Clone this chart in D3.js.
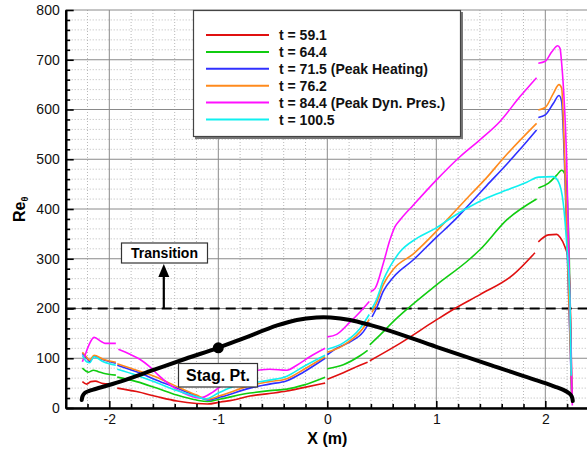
<!DOCTYPE html>
<html><head><meta charset="utf-8">
<script src="https://cdn.jsdelivr.net/npm/d3@7"></script>
<style>
body{margin:0;background:#fff;}
svg{display:block;font-family:"Liberation Sans",Arial,sans-serif;}
</style></head>
<body><svg id="c" width="587" height="451"></svg>
<script>
// ---- data ----
const xMajorTicks = [-2, -1, 0, 1, 2];
const xTickLabels = ["-2", "-1", "0", "1", "2"];
const yMajorTicks = [0, 100, 200, 300, 400, 500, 600, 700, 800];
const seriesLabels = ["t = 59.1", "t = 64.4", "t = 71.5 (Peak Heating)", "t = 76.2", "t = 84.4 (Peak Dyn. Pres.)", "t = 100.5"];
const transitionRe = 200;
const stagPoint = [-1.0, 121];

// null marks a break in the curve
const t59 = [[-2.247,53],[-2.207,48],[-2.17,53],[-2.13,54],[-2.055,49],[-1.94,48], null,
  [-1.927,40],[-1.75,33],[-1.565,23],[-1.38,14],[-1.2,9],[-1.1,8],[-0.98,12],[-0.86,16],[-0.71,24],[-0.53,29],[-0.37,34],[-0.22,41],[-0.02,50], null,
  [0,58],[0.147,71],[0.3,86],[0.37,92], null,
  [0.39,95],[0.667,130],[1.0,177],[1.17,200],[1.4,228],[1.706,268],[1.905,312], null,
  [1.936,334],[2.03,348],[2.105,349],[2.135,343],[2.18,324],[2.21,300],[2.235,150],[2.245,18]];
const t64 = [[-2.247,80],[-2.19,72],[-2.147,76],[-2.1,73],[-2.055,70],[-1.94,66], null,
  [-1.927,62],[-1.75,53],[-1.565,40],[-1.38,26],[-1.2,16],[-1.1,13],[-0.98,18],[-0.71,30],[-0.53,35],[-0.37,38],[-0.22,46],[-0.02,62], null,
  [0,79],[0.147,87],[0.3,105],[0.37,116], null,
  [0.39,127],[0.48,146],[0.636,180],[0.728,198],[1.0,247],[1.31,300],[1.4,318],[1.646,378],[1.92,420], null,
  [1.936,442],[2.03,452],[2.105,468],[2.15,478],[2.18,470],[2.196,445],[2.22,300],[2.243,15]];
const t71 = [[-2.247,110],[-2.207,100],[-2.18,93],[-2.14,104],[-2.055,97],[-1.94,90], null,
  [-1.927,86],[-1.75,73],[-1.565,56],[-1.38,40],[-1.2,24],[-1.1,16],[-0.98,22],[-0.71,40],[-0.53,48],[-0.37,55],[-0.22,72],[-0.02,100], null,
  [0,107],[0.086,120],[0.21,133],[0.33,153],[0.385,172], null,
  [0.41,183],[0.45,200],[0.514,235],[0.606,263],[0.79,298],[1.0,343],[1.156,375],[1.31,411],[1.462,447],[1.646,490],[1.76,518],[1.92,559], null,
  [1.936,584],[2.0,589],[2.073,612],[2.126,628],[2.15,616],[2.175,500],[2.244,12]];
const t76 = [[-2.247,112],[-2.207,102],[-2.18,96],[-2.14,106],[-2.055,98],[-1.94,92], null,
  [-1.927,89],[-1.75,76],[-1.565,62],[-1.38,43],[-1.2,26],[-1.1,18],[-0.98,25],[-0.71,45],[-0.53,53],[-0.37,59],[-0.22,77],[-0.02,103], null,
  [0,112],[0.147,126],[0.3,153],[0.385,178], null,
  [0.41,192],[0.45,210],[0.514,248],[0.606,279],[0.79,310],[1.0,355],[1.156,392],[1.31,428],[1.462,463],[1.615,502],[1.92,572], null,
  [1.936,599],[2.0,604],[2.073,632],[2.126,650],[2.15,643],[2.175,520],[2.245,10]];
const t84 = [[-2.247,93],[-2.223,106],[-2.19,125],[-2.14,142],[-2.07,133],[-2.04,130],[-1.94,130], null,
  [-1.917,118],[-1.81,108],[-1.72,98],[-1.63,83],[-1.55,66],[-1.44,46],[-1.32,30],[-1.17,20],[-1.05,32],[-0.98,43],[-0.89,52],[-0.71,73],[-0.53,78],[-0.37,76],[-0.28,86],[-0.16,103],[-0.02,120], null,
  [0,143],[0.086,148],[0.21,173],[0.3,193],[0.385,214], null,
  [0.398,234],[0.44,241],[0.514,291],[0.575,338],[0.62,364],[0.667,378],[0.79,408],[1.0,458],[1.217,505],[1.40,539],[1.584,576],[1.768,626],[1.92,664], null,
  [1.936,693],[2.0,697],[2.06,716],[2.114,728],[2.135,723],[2.15,693],[2.196,498],[2.242,56],[2.248,5]];
const t100 = [[-2.247,106],[-2.207,93],[-2.18,91],[-2.14,103],[-2.055,93],[-1.94,86], null,
  [-1.927,78],[-1.75,66],[-1.565,51],[-1.38,35],[-1.2,23],[-1.12,18],[-1.0,30],[-0.86,43],[-0.71,50],[-0.53,56],[-0.37,64],[-0.22,83],[-0.02,106], null,
  [0,118],[0.147,131],[0.3,160],[0.385,188], null,
  [0.41,200],[0.45,217],[0.514,257],[0.575,284],[0.667,314],[0.82,341],[1.0,362],[1.156,385],[1.31,405],[1.462,422],[1.646,438],[1.83,454],[1.94,464],[2.07,465],[2.12,455],[2.165,411],[2.196,331],[2.227,204],[2.238,65]];
const bodyProfile = [[-2.253,16],[-2.245,24],[-2.225,30],[-2.19,34],[-2.147,37],[-1.9,53],[-1.6,76],[-1.3,99],[-1.0,121],[-0.77,140],[-0.46,166],[-0.28,177],[-0.1,182],[0.03,182],[0.21,177],[0.39,167],[0.575,155],[1.0,123],[1.5,86],[2.0,50],[2.1,42],[2.17,36],[2.21,31],[2.235,26],[2.248,20],[2.252,14]];

const seriesData = [t59, t64, t71, t76, t84, t100];
const seriesColors = ["#e01010", "#10cc10", "#3030ff", "#ff8a1c", "#ff10ff", "#10f0f0"];

// ---- drawing ----
const svg = d3.select("#c");
const x = d3.scaleLinear().domain([-2.4, 2.4]).range([65.7, 588.9]);
const y = d3.scaleLinear().domain([0, 800]).range([408, 10]);
const font = '"Liberation Sans",Arial,sans-serif';

// grid
const xMinor = d3.range(-2.4, 2.41, 0.2).map(v => +v.toFixed(2)).filter(v => !xMajorTicks.includes(v));
const yMinor = d3.range(0, 801, 20).filter(v => v % 100 !== 0);
const g = svg.append("g");
g.selectAll(".vx").data(xMinor).join("line")
  .attr("x1", d => x(d)).attr("x2", d => x(d)).attr("y1", y(800)).attr("y2", y(0))
  .attr("stroke", "#b8b8b8").attr("stroke-width", 1).attr("stroke-dasharray", "1,2");
g.selectAll(".hy").data(yMinor).join("line")
  .attr("x1", x(-2.4)).attr("x2", x(2.4)).attr("y1", d => y(d)).attr("y2", d => y(d))
  .attr("stroke", "#b8b8b8").attr("stroke-width", 1).attr("stroke-dasharray", "1,2");
g.selectAll(".vX").data(xMajorTicks).join("line")
  .attr("x1", d => x(d)).attr("x2", d => x(d)).attr("y1", y(800)).attr("y2", y(0))
  .attr("stroke", "#8a8a8a").attr("stroke-width", 1);
g.selectAll(".hY").data(yMajorTicks).join("line")
  .attr("x1", x(-2.4)).attr("x2", x(2.4)).attr("y1", d => y(d)).attr("y2", d => y(d))
  .attr("stroke", "#8a8a8a").attr("stroke-width", 1);

// transition line
svg.append("line").attr("x1", x(-2.4)).attr("x2", x(2.4))
  .attr("y1", y(transitionRe)).attr("y2", y(transitionRe))
  .attr("stroke", "#000").attr("stroke-width", 2.2).attr("stroke-dasharray", "10,6");

// series
const line = d3.line().defined(d => d !== null).x(d => x(d[0])).y(d => y(d[1])).curve(d3.curveMonotoneX);
const lineB = d3.line().defined(d => d !== null).x(d => x(d[0])).y(d => y(d[1])).curve(d3.curveCatmullRom);
seriesData.forEach((s, i) => {
  svg.append("path").attr("d", line(s)).attr("fill", "none")
    .attr("stroke", seriesColors[i]).attr("stroke-width", 1.6).attr("stroke-linejoin", "round");
});

// body profile
svg.append("path").attr("d", lineB(bodyProfile)).attr("fill", "none")
  .attr("stroke", "#000").attr("stroke-width", 4).attr("stroke-linecap", "round").attr("stroke-linejoin", "round");
svg.append("circle").attr("cx", x(stagPoint[0])).attr("cy", y(stagPoint[1])).attr("r", 5.5).attr("fill", "#000");

// axes
const axL = d3.axisLeft(y).tickValues(yMajorTicks).tickSize(-8).tickSizeOuter(0).tickPadding(6);
const axLm = d3.axisLeft(y).tickValues(yMinor).tickSize(-4.5).tickSizeOuter(0).tickFormat("");
const axB = d3.axisBottom(x).tickValues(xMajorTicks).tickSize(-7).tickSizeOuter(0).tickPadding(6)
  .tickFormat((d, i) => xTickLabels[i]);
const axBm = d3.axisBottom(x).tickValues(xMinor.filter(v => v > -2.4 && v < 2.4)).tickSize(-4).tickSizeOuter(0).tickFormat("");
[axLm, axL].forEach(a => {
  const ga = svg.append("g").attr("transform", `translate(${x(-2.4)},0)`).call(a);
  ga.select(".domain").attr("stroke-width", 2.2);
  ga.selectAll(".tick line").attr("stroke-width", 1.6);
  ga.selectAll("text").attr("font-family", font).attr("font-size", 14).attr("fill", "#111");
});
[axBm, axB].forEach(a => {
  const ga = svg.append("g").attr("transform", `translate(0,${y(0)})`).call(a);
  ga.select(".domain").attr("stroke-width", 2.2);
  ga.selectAll(".tick line").attr("stroke-width", 1.6);
  ga.selectAll("text").attr("font-family", font).attr("font-size", 14).attr("fill", "#111");
});

// axis titles
svg.append("text").attr("x", x(0)).attr("y", 444).attr("text-anchor", "middle")
  .attr("font-family", font).attr("font-size", 16).attr("font-weight", "bold").text("X (m)");
const yt = svg.append("text").attr("transform", "translate(25,222) rotate(-90)")
  .attr("font-family", font).attr("font-size", 16).attr("font-weight", "bold");
yt.append("tspan").text("Re");
yt.append("tspan").attr("dy", 3).attr("font-size", 9).text("θ");

// Transition label + arrow
const ax = x(-1.5);
svg.append("line").attr("x1", ax).attr("x2", ax).attr("y1", y(transitionRe)).attr("y2", 274)
  .attr("stroke", "#000").attr("stroke-width", 2.2);
svg.append("path").attr("d", `M${ax},264 L${ax - 5.5},277 L${ax + 5.5},277 Z`).attr("fill", "#000");
svg.append("rect").attr("x", 121.5).attr("y", 243).attr("width", 86).attr("height", 20)
  .attr("fill", "#fff").attr("stroke", "#333").attr("stroke-width", 1.2);
svg.append("text").attr("x", 164.5).attr("y", 258).attr("text-anchor", "middle")
  .attr("font-family", font).attr("font-size", 14).attr("font-weight", "bold").text("Transition");

// Stag. Pt. label
svg.append("rect").attr("x", 178.5).attr("y", 363.5).attr("width", 79).attr("height", 23.5)
  .attr("fill", "#fff").attr("stroke", "#333").attr("stroke-width", 1.2);
svg.append("text").attr("x", 218).attr("y", 381).attr("text-anchor", "middle")
  .attr("font-family", font).attr("font-size", 16).attr("font-weight", "bold").text("Stag. Pt.");

// legend
svg.append("rect").attr("x", 195).attr("y", 12).attr("width", 268).attr("height", 127).attr("fill", "#777");
svg.append("rect").attr("x", 193.5).attr("y", 10.5).attr("width", 267).attr("height", 126)
  .attr("fill", "#fff").attr("stroke", "#444").attr("stroke-width", 1.2);
const lg = svg.append("g");
seriesLabels.forEach((lab, i) => {
  const yy = 35 + i * 16.9;
  lg.append("line").attr("x1", 206).attr("x2", 269).attr("y1", yy).attr("y2", yy)
    .attr("stroke", seriesColors[i]).attr("stroke-width", 2);
  lg.append("text").attr("x", 279).attr("y", yy + 5).attr("font-family", font)
    .attr("font-size", 14).attr("font-weight", "bold").attr("fill", "#111").text(lab);
});
</script></body></html>
